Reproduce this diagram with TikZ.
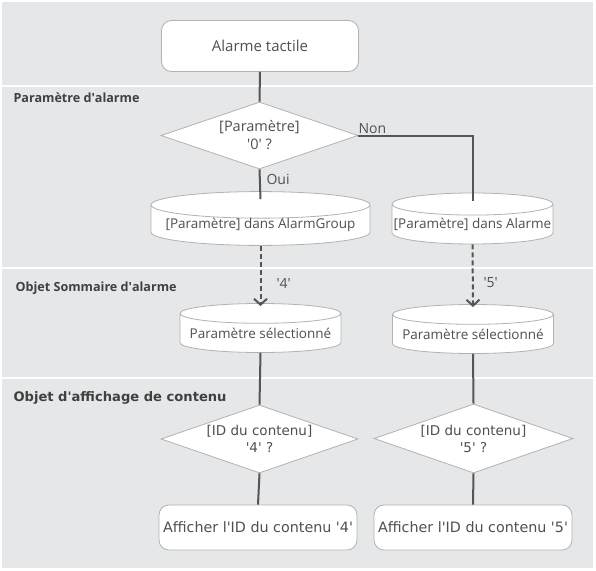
\documentclass[tikz,border=0pt]{standalone}
\usepackage{fontspec}
\setmainfont{Open Sans}
\newfontfamily\wide{DejaVu Sans}
\usetikzlibrary{shapes.geometric,arrows.meta,calc}
\newcommand{\sq}{\textquotesingle}
\definecolor{bg}{HTML}{E6E7E8}
\definecolor{edge}{HTML}{B2B2B2}
\definecolor{conn}{HTML}{555555}
\definecolor{txt}{HTML}{505050}
\definecolor{head}{HTML}{404040}
\tikzset{
  every node/.style={text=txt, font=\fontsize{14.5}{18}\selectfont},
  shapebase/.style={draw=edge, line width=0.8pt, fill=white, inner sep=0pt},
  rbox/.style={shapebase, rectangle, rounded corners=10pt},
  dmd/.style={shapebase, diamond, align=center, aspect=2.9},
  cyl/.style={shapebase, cylinder, shape border rotate=90, aspect=0.14, anchor=shape center, font=\fontsize{13.5}{17}\selectfont},
  widetext/.style={font=\wide\fontsize{13.5}{17}\selectfont},
  widebox/.style={font=\wide\fontsize{14.3}{17}\selectfont},
  link/.style={draw=conn, line width=2pt},
  dlink/.style={draw=conn, line width=2pt, dash pattern=on 5pt off 3pt, -{Straight Barb[length=6pt,width=13pt,line width=2pt]}},
  sect/.style={anchor=west, text=head, font=\fontsize{12.6}{15}\selectfont\bfseries},
  widesect/.style={anchor=west, text=head, font=\wide\fontsize{13.1}{15}\selectfont\bfseries},
  lbl/.style={text=txt, font=\fontsize{14}{17}\selectfont},
  sepline/.style={draw=white, line width=1.5pt}
}
\begin{document}
\begin{tikzpicture}[x=1pt, y=-1pt]
\useasboundingbox (0,0) rectangle (596,570);
\fill[white] (0,0) rectangle (596,570);
\fill[bg] (2,2) rectangle (593,568);
\draw[sepline] (2,86) -- (593,86);
\draw[sepline] (2,268) -- (593,268);
\draw[sepline] (2,378) -- (593,378);

\node[sect] (h1) at (10,98) {Paramètre d\sq alarme};
\node[sect] (h2) at (12,288) {Objet Sommaire d\sq alarme};
\node[widesect] (h3) at (10,398) {Objet d\sq affichage de contenu};

\node[rbox, minimum width=197pt, minimum height=51pt, font=\fontsize{15}{18}\selectfont] (tac) at (260,46) {Alarme tactile};
\node[dmd, minimum width=197pt, minimum height=67pt] (d1) at (259.5,135.5) {[Paramètre]\\\sq0\sq\ ?};
\node[cyl, minimum width=219pt, minimum height=51pt] (c1) at (260.5,218.5) {[Paramètre] dans AlarmGroup};
\node[cyl, minimum width=161pt, minimum height=51pt] (c2) at (472.5,218.5) {[Paramètre] dans Alarme};
\node[cyl, minimum width=161pt, minimum height=49pt] (s1) at (260.5,328) {Paramètre sélectionné};
\node[cyl, minimum width=161pt, minimum height=49pt] (s2) at (473,329) {Paramètre sélectionné};
\node[dmd, widetext, minimum width=197pt, minimum height=68pt] (d3) at (259.5,439) {[ID du contenu]\\\sq4\sq\ ?};
\node[dmd, widetext, minimum width=199pt, minimum height=69pt] (d4) at (473.5,438.5) {[ID du contenu]\\\sq5\sq\ ?};
\node[rbox, widebox, minimum width=198pt, minimum height=45pt] (b1) at (258,527.5) {Afficher l\sq ID du contenu \sq4\sq};
\node[rbox, widebox, minimum width=198pt, minimum height=45pt] (b2) at (473,527.5) {Afficher l\sq ID du contenu \sq5\sq};

\coordinate (c1t) at ($(c1.top)+(0,8)$);
\coordinate (c2t) at ($(c2.top)+(0,8)$);
\coordinate (s1t) at ($(s1.top)+(0,3)$);
\coordinate (s2t) at ($(s2.top)+(0,3)$);

\draw[link] (tac.south) -- (d1.north);
\draw[link] (d1.south) -- (c1t);
\draw[link] (d1.east) -| (c2t);
\draw[dlink] (c1.bottom) -- (s1t);
\draw[dlink] (c2.bottom) -- (s2t);
\draw[link] (s1.bottom) -- (d3.north);
\draw[link] (s2.bottom) -- (d4.north);
\draw[link] (d3.south) -- (b1.north);
\draw[link] (d4.south) -- (b2.north);

\node[lbl, anchor=south west] (non) at (355,137) {Non};
\node[lbl, anchor=west] (oui) at (263,179) {Oui};
\node[lbl, anchor=west] (q4) at (273,283) {\sq4\sq};
\node[lbl, anchor=west] (q5) at (480,283) {\sq5\sq};
\end{tikzpicture}
\end{document}
